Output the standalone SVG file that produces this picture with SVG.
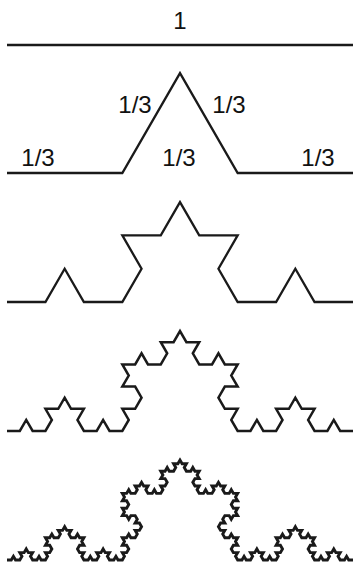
<svg xmlns="http://www.w3.org/2000/svg" width="353" height="562" viewBox="0 0 353 562">
<style>
.k{fill:none;stroke:#1a1a1a;stroke-width:2.3;stroke-linejoin:miter;stroke-linecap:butt;vector-effect:non-scaling-stroke}
.k3{stroke-width:2.5}
.k4{stroke-width:2.9}
.t{font-family:"Liberation Sans",Arial,sans-serif;font-size:24px;fill:#111;text-anchor:middle}
</style>
<rect width="353" height="562" fill="#fff"/>
<g id="level0">
<line class="k" x1="7" y1="45" x2="354" y2="45"/>
<text class="t" x="180" y="29">1</text>
</g>
<g id="level1">
<path class="k" transform="translate(7,173) scale(57.6667)" d="M0 0h2l1-1.732l1 1.732h2"/>
<text class="t" x="135" y="113">1/3</text>
<text class="t" x="229" y="113">1/3</text>
<text class="t" x="38" y="166">1/3</text>
<text class="t" x="179" y="166">1/3</text>
<text class="t" x="318" y="166">1/3</text>
</g>
<g id="level2">
<path class="k" transform="translate(7,302) scale(19.2222)" d="M0 0h2 l1-1.732 l1 1.732 h2 l1-1.732 l-1-1.732 h2 l1-1.732 l1 1.732 h2 l-1 1.732 l1 1.732 h2 l1-1.732 l1 1.732 h2"/>
</g>
<g id="level3">
<path class="k k3" transform="translate(7,431) scale(6.40741)" d="M0 0
h2 l1-1.732 l1 1.732 h2 l1-1.732 l-1-1.732 h2 l1-1.732 l1 1.732 h2 l-1 1.732 l1 1.732 h2 l1-1.732 l1 1.732 h2
l1-1.732 l-1-1.732 h2 l1-1.732 l-1-1.732 h-2 l1-1.732 l-1-1.732 h2 l1-1.732 l1 1.732 h2 l1-1.732 l-1-1.732 h2 l1-1.732
l1 1.732 h2 l-1 1.732 l1 1.732 h2 l1-1.732 l1 1.732 h2 l-1 1.732 l1 1.732 h-2 l-1 1.732 l1 1.732 h2 l-1 1.732 l1 1.732
h2 l1-1.732 l1 1.732 h2 l1-1.732 l-1-1.732 h2 l1-1.732 l1 1.732 h2 l-1 1.732 l1 1.732 h2 l1-1.732 l1 1.732 h2"/>
</g>
<g id="level4">
<path class="k k4" transform="translate(7,560) scale(2.135802)" d="M0 0
h2 l1-1.732 l1 1.732 h2 l1-1.732 l-1-1.732 h2 l1-1.732 l1 1.732 h2 l-1 1.732 l1 1.732 h2 l1-1.732 l1 1.732 h2
l1-1.732 l-1-1.732 h2 l1-1.732 l-1-1.732 h-2 l1-1.732 l-1-1.732 h2 l1-1.732 l1 1.732 h2 l1-1.732 l-1-1.732 h2 l1-1.732
l1 1.732 h2 l-1 1.732 l1 1.732 h2 l1-1.732 l1 1.732 h2 l-1 1.732 l1 1.732 h-2 l-1 1.732 l1 1.732 h2 l-1 1.732 l1 1.732
h2 l1-1.732 l1 1.732 h2 l1-1.732 l-1-1.732 h2 l1-1.732 l1 1.732 h2 l-1 1.732 l1 1.732 h2 l1-1.732 l1 1.732 h2
l1-1.732 l-1-1.732 h2 l1-1.732 l-1-1.732 h-2 l1-1.732 l-1-1.732 h2 l1-1.732 l1 1.732 h2 l1-1.732 l-1-1.732 h2 l1-1.732
l-1-1.732 h-2 l1-1.732 l-1-1.732 h-2 l-1 1.732 l-1-1.732 h-2 l1-1.732 l-1-1.732 h2 l1-1.732 l-1-1.732 h-2 l1-1.732 l-1-1.732
h2 l1-1.732 l1 1.732 h2 l1-1.732 l-1-1.732 h2 l1-1.732 l1 1.732 h2 l-1 1.732 l1 1.732 h2 l1-1.732 l1 1.732 h2
l1-1.732 l-1-1.732 h2 l1-1.732 l-1-1.732 h-2 l1-1.732 l-1-1.732 h2 l1-1.732 l1 1.732 h2 l1-1.732 l-1-1.732 h2 l1-1.732
l1 1.732 h2 l-1 1.732 l1 1.732 h2 l1-1.732 l1 1.732 h2 l-1 1.732 l1 1.732 h-2 l-1 1.732 l1 1.732 h2 l-1 1.732 l1 1.732
h2 l1-1.732 l1 1.732 h2 l1-1.732 l-1-1.732 h2 l1-1.732 l1 1.732 h2 l-1 1.732 l1 1.732 h2 l1-1.732 l1 1.732 h2
l-1 1.732 l1 1.732 h-2 l-1 1.732 l1 1.732 h2 l-1 1.732 l1 1.732 h-2 l-1 1.732 l-1-1.732 h-2 l-1 1.732 l1 1.732 h-2 l-1 1.732
l1 1.732 h2 l-1 1.732 l1 1.732 h2 l1-1.732 l1 1.732 h2 l-1 1.732 l1 1.732 h-2 l-1 1.732 l1 1.732 h2 l-1 1.732 l1 1.732
h2 l1-1.732 l1 1.732 h2 l1-1.732 l-1-1.732 h2 l1-1.732 l1 1.732 h2 l-1 1.732 l1 1.732 h2 l1-1.732 l1 1.732 h2
l1-1.732 l-1-1.732 h2 l1-1.732 l-1-1.732 h-2 l1-1.732 l-1-1.732 h2 l1-1.732 l1 1.732 h2 l1-1.732 l-1-1.732 h2 l1-1.732
l1 1.732 h2 l-1 1.732 l1 1.732 h2 l1-1.732 l1 1.732 h2 l-1 1.732 l1 1.732 h-2 l-1 1.732 l1 1.732 h2 l-1 1.732 l1 1.732
h2 l1-1.732 l1 1.732 h2 l1-1.732 l-1-1.732 h2 l1-1.732 l1 1.732 h2 l-1 1.732 l1 1.732 h2 l1-1.732 l1 1.732 h2"/>
</g>
</svg>
